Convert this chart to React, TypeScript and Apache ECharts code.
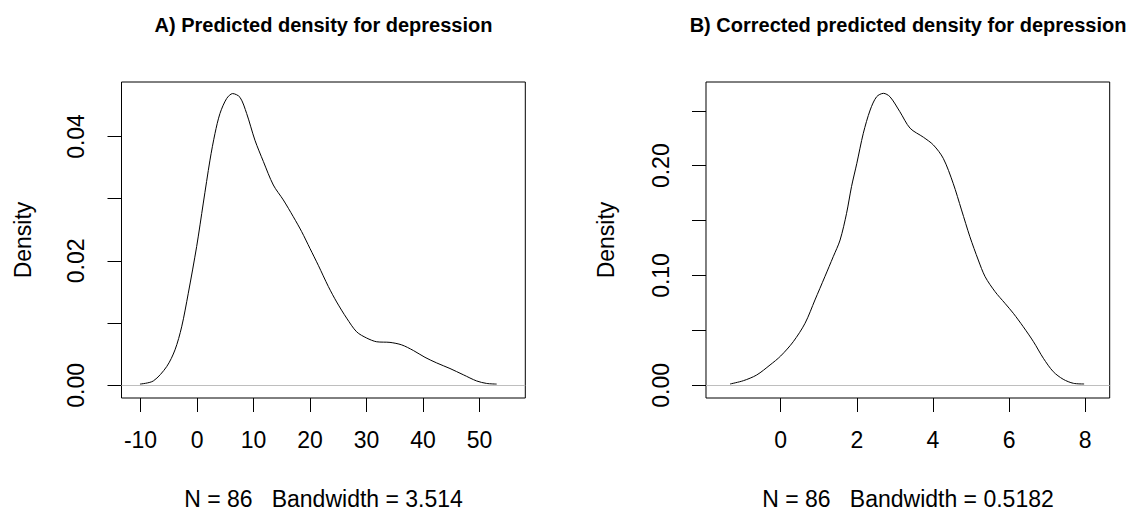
import React, { useEffect, useRef } from "react";
import * as echarts from "echarts";

// ---- Data ----
const titleA = "A) Predicted density for depression";
const titleB = "B) Corrected predicted density for depression";
const subA = "N = 86   Bandwidth = 3.514";
const subB = "N = 86   Bandwidth = 0.5182";
const yName = "Density";

const densA_x = [-10.1, -7.74, -5.38, -3.9, -2.72, -1.55, -0.07, 1.11, 2.29, 3.18, 4.06, 5.24, 6.3, 7.6, 8.78, 10.25, 11.73, 13.5, 15.27, 17.04, 18.52, 19.99, 21.46, 23.23, 24.71, 26.48, 28.25, 30.02, 31.8, 34.15, 36.22, 38.28, 40.34, 42.41, 44.77, 47.12, 49.49, 51.26, 53.03];
const densA_y = [0.0002, 0.0007, 0.003, 0.0057, 0.0094, 0.0148, 0.0223, 0.0293, 0.0362, 0.0405, 0.0437, 0.0461, 0.0469, 0.0463, 0.0437, 0.0394, 0.036, 0.0322, 0.0298, 0.0271, 0.0247, 0.022, 0.0193, 0.0159, 0.0134, 0.0108, 0.0086, 0.0076, 0.007, 0.0069, 0.0065, 0.0056, 0.0045, 0.0036, 0.0027, 0.0017, 0.0007, 0.0003, 0.0002];

const densB_x = [-1.33, -0.98, -0.63, -0.28, 0, 0.33, 0.64, 0.9, 1.16, 1.38, 1.56, 1.73, 1.86, 2.0, 2.17, 2.35, 2.52, 2.7, 2.87, 3.13, 3.4, 3.75, 4.01, 4.27, 4.53, 4.75, 4.97, 5.19, 5.37, 5.63, 5.89, 6.11, 6.37, 6.64, 6.9, 7.16, 7.42, 7.69, 7.97];
const densB_y = [0.0012, 0.0042, 0.0094, 0.0185, 0.0267, 0.0397, 0.0565, 0.0777, 0.0989, 0.1171, 0.1323, 0.1566, 0.1809, 0.2022, 0.2295, 0.2507, 0.2628, 0.2659, 0.2628, 0.2492, 0.2341, 0.2259, 0.2189, 0.2067, 0.184, 0.1597, 0.1353, 0.1141, 0.0989, 0.0853, 0.0747, 0.0656, 0.0534, 0.0397, 0.0246, 0.0124, 0.0055, 0.0018, 0.0012];

const xTicksA = [-10, 0, 10, 20, 30, 40, 50];
const yTicksA = [0, 0.01, 0.02, 0.03, 0.04];
const yLabelsA = [0, 0.02, 0.04];
const xTicksB = [0, 2, 4, 6, 8];
const yTicksB = [0, 0.05, 0.1, 0.15, 0.2, 0.25];
const yLabelsB = [0, 0.1, 0.2];

// axis extents (R's 4% padded ranges)
const xRangeA = [-13.37, 58.1];
const yRangeA = [-0.00204, 0.04876];
const xRangeB = [-1.962, 8.642];
const yRangeB = [-0.01157, 0.27623];

const FONT = "'Liberation Sans', Arial, Helvetica, sans-serif";

export default function App() {
  const ref = useRef<HTMLDivElement>(null);
  useEffect(() => {
    if (!ref.current) return;
    const chart = echarts.init(ref.current, undefined, { renderer: "svg" });
    const pairs = (xs: number[], ys: number[]) => xs.map((x, i) => [x, ys[i]]);
    const tickFont = { fontSize: 23, color: "#000", fontFamily: FONT };
    const mkX = (idx: number, range: number[], ticks: number[]) => ({
      type: "value",
      gridIndex: idx,
      min: range[0],
      max: range[1],
      axisLine: { show: false, onZero: false },
      splitLine: { show: false },
      axisTick: { show: true, length: 14, customValues: ticks, lineStyle: { color: "#000", width: 1 } },
      axisLabel: { show: true, customValues: ticks, margin: 30, formatter: (v: number) => String(v), ...tickFont },
    });
    const mkY = (idx: number, range: number[], ticks: number[], labels: number[]) => ({
      type: "value",
      gridIndex: idx,
      min: range[0],
      max: range[1],
      axisLine: { show: false, onZero: false },
      splitLine: { show: false },
      axisTick: { show: true, length: 14, customValues: ticks, lineStyle: { color: "#000", width: 1 } },
      axisLabel: { show: true, customValues: labels, rotate: 90, margin: 34, formatter: (v: number) => v.toFixed(2), ...tickFont },
    });
    const mkSeries = (idx: number, xs: number[], ys: number[]) => ({
      type: "line",
      xAxisIndex: idx,
      yAxisIndex: idx,
      data: pairs(xs, ys),
      showSymbol: false,
      smooth: 0.3,
      lineStyle: { color: "#000", width: 1 },
      markLine: {
        silent: true,
        symbol: ["none", "none"],
        label: { show: false },
        lineStyle: { color: "#bebebe", type: "solid", width: 1 },
        data: [{ yAxis: 0 }],
      },
    });
    const txt = (x: number, y: number, text: string, size: number, bold = false, rot = 0) => ({
      type: "text",
      x,
      y,
      rotation: rot,
      style: {
        text,
        fill: "#000",
        fontSize: size,
        fontWeight: bold ? "bold" : "normal",
        fontFamily: FONT,
        align: "center",
        verticalAlign: "middle",
        textAlign: "center",
        textVerticalAlign: "middle",
      },
    });
    chart.setOption({
      animation: false,
      backgroundColor: "#fff",
      grid: [
        { left: 121.5, top: 82, width: 403.8, height: 316, show: true, borderColor: "#000", borderWidth: 1, backgroundColor: "transparent" },
        { left: 706, top: 82, width: 403.7, height: 316, show: true, borderColor: "#000", borderWidth: 1, backgroundColor: "transparent" },
      ],
      xAxis: [mkX(0, xRangeA, xTicksA), mkX(1, xRangeB, xTicksB)],
      yAxis: [mkY(0, yRangeA, yTicksA, yLabelsA), mkY(1, yRangeB, yTicksB, yLabelsB)],
      series: [mkSeries(0, densA_x, densA_y), mkSeries(1, densB_x, densB_y)],
      graphic: [
        txt(323.5, 25, titleA, 20, true),
        txt(908, 25, titleB, 20, true),
        txt(323.5, 498.5, subA, 23),
        txt(908, 498.5, subB, 23),
        txt(23, 240, yName, 23, false, Math.PI / 2),
        txt(606, 240, yName, 23, false, Math.PI / 2),
      ],
    });
    return () => chart.dispose();
  }, []);
  return <div ref={ref} style={{ position: "fixed", left: 0, top: 0, width: 1133, height: 513 }} />;
}
